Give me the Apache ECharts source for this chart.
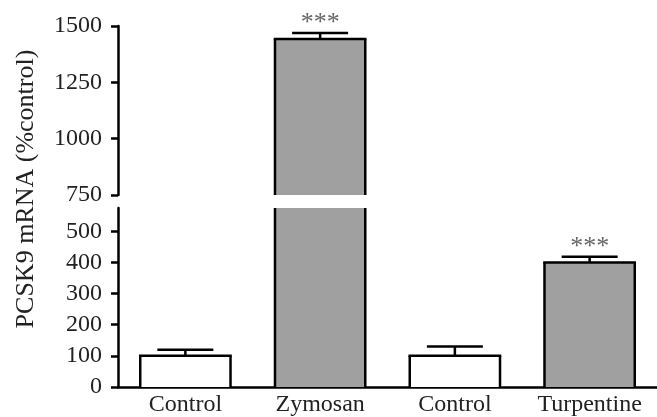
<!DOCTYPE html>
<html>
<head>
<meta charset="utf-8">
<script src="https://cdn.jsdelivr.net/npm/echarts@6/dist/echarts.min.js"></script>
<style>
  html, body { margin: 0; padding: 0; background: #fff; }
  #main { width: 657px; height: 417px; }
</style>
</head>
<body>
<div id="main"></div>
<script>
// values
var categories = ['Control', 'Zymosan', 'Control', 'Turpentine'];
var means = [100, 1442, 100, 400];
var errUp = [20, 27, 30, 18];
var stars = ['', '***', '', '***'];
var fills = ['#ffffff', '#a0a0a0', '#ffffff', '#a0a0a0'];
var lowTicks = [0, 100, 200, 300, 400, 500];
var highTicks = [750, 1000, 1250, 1500];
var lowMax = 575; // axis break

var font = 'Liberation Serif';

// rows: [index, mean, mean+err, stars, fill]
var rows = [];
for (var i = 0; i < means.length; i++) {
  rows.push([i, means[i], means[i] + errUp[i], stars[i], fills[i]]);
}
var highRows = rows.filter(function (r) { return r[1] > lowMax; });

// bar clipped to its panel, with no border drawn at the break
function drawBar(params, api) {
  var cs = params.coordSys;
  var idx = api.value(0);
  var yTop = api.coord([idx, api.value(1)])[1];
  var yBot = api.coord([idx, 0])[1];
  var x = api.coord([idx, 0])[0];
  var w = api.size([1, 0])[0] * 0.67;
  var top = Math.max(yTop, cs.y);
  var bot = Math.min(yBot, cs.y + cs.height);
  var st = { stroke: '#000', lineWidth: 2.5 };
  var kids = [
    { type: 'rect', shape: { x: x - w / 2, y: top, width: w, height: bot - top },
      style: { fill: api.value(4) } },
    { type: 'line', shape: { x1: x - w / 2, y1: top, x2: x - w / 2, y2: bot }, style: st },
    { type: 'line', shape: { x1: x + w / 2, y1: top, x2: x + w / 2, y2: bot }, style: st }
  ];
  if (yTop >= cs.y) {
    kids.push({ type: 'line', shape: { x1: x - w / 2 - 1.25, y1: top, x2: x + w / 2 + 1.25, y2: top }, style: st });
  }
  return { type: 'group', children: kids };
}

function drawErr(params, api) {
  var cs = params.coordSys;
  var idx = api.value(0);
  var p0 = api.coord([idx, api.value(1)]);
  var p1 = api.coord([idx, api.value(2)]);
  if (p0[1] < cs.y) return null;
  var st = { stroke: '#000', lineWidth: 2.5 };
  return {
    type: 'group',
    children: [
      { type: 'line', shape: { x1: p0[0], y1: p0[1], x2: p1[0], y2: p1[1] }, style: st },
      { type: 'line', shape: { x1: p1[0] - 28, y1: p1[1], x2: p1[0] + 28, y2: p1[1] }, style: st },
      { type: 'text', x: p1[0], y: p1[1] - 10,
        style: { text: api.value(3), fill: '#666', font: '26px "' + font + '"', align: 'center', verticalAlign: 'middle' } }
    ]
  };
}

var chart = echarts.init(document.getElementById('main'));

var yCommon = {
  type: 'value',
  axisLine: { show: true, lineStyle: { color: '#000', width: 2.5 } },
  axisTick: { show: true, length: 7, lineStyle: { color: '#000', width: 2.5 } },
  splitLine: { show: false },
  axisLabel: { color: '#222', fontFamily: font, fontSize: 24, margin: 16, formatter: function (v) { return String(v); } }
};

chart.setOption({
  animation: false,
  grid: [
    { left: 118, top: 26, width: 544, height: 169 },
    { left: 118, top: 208, width: 544, height: 182 }
  ],
  xAxis: [
    { type: 'category', gridIndex: 0, data: categories, show: false },
    {
      type: 'category', gridIndex: 1, data: categories,
      axisLine: { lineStyle: { color: '#000', width: 2.5 } },
      axisTick: { show: false },
      axisLabel: { color: '#222', fontFamily: font, fontSize: 24, margin: 6, interval: 0 }
    }
  ],
  yAxis: [
    Object.assign({}, yCommon, {
      gridIndex: 0, min: 750, max: 1500, interval: 250,
      axisTick: Object.assign({}, yCommon.axisTick, { customValues: highTicks }),
      axisLabel: Object.assign({}, yCommon.axisLabel, { customValues: highTicks })
    }),
    Object.assign({}, yCommon, {
      gridIndex: 1, min: 0, max: lowMax,
      axisTick: Object.assign({}, yCommon.axisTick, { customValues: lowTicks }),
      axisLabel: Object.assign({}, yCommon.axisLabel, { customValues: lowTicks })
    })
  ],
  graphic: [{
    type: 'text', x: 26, y: 189, rotation: Math.PI / 2,
    style: { text: 'PCSK9 mRNA (%control)', fill: '#222', font: '26px "' + font + '"', align: 'center', verticalAlign: 'middle' }
  }],
  series: [
    { type: 'custom', xAxisIndex: 0, yAxisIndex: 0, data: highRows, renderItem: drawBar, clip: false, z: 2 },
    { type: 'custom', xAxisIndex: 1, yAxisIndex: 1, data: rows, renderItem: drawBar, clip: false, z: 2 },
    { type: 'custom', xAxisIndex: 0, yAxisIndex: 0, data: highRows, renderItem: drawErr, clip: false, z: 3 },
    { type: 'custom', xAxisIndex: 1, yAxisIndex: 1, data: rows, renderItem: drawErr, clip: false, z: 3 }
  ]
});
</script>
</body>
</html>
